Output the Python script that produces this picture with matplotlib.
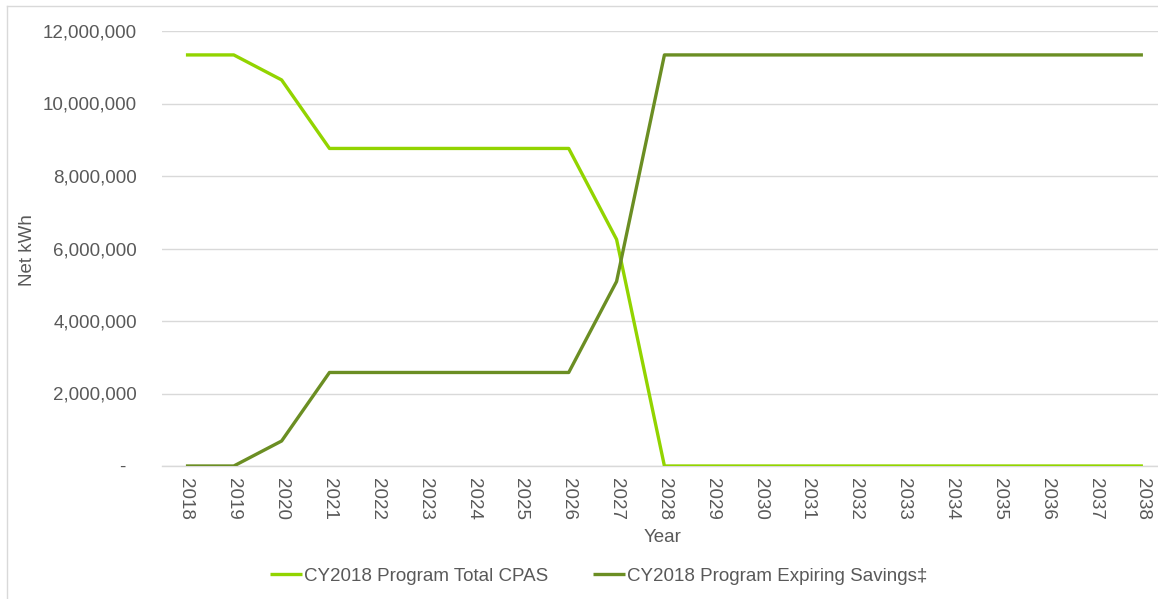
import matplotlib
matplotlib.use("Agg")
import matplotlib.pyplot as plt
from matplotlib.ticker import FuncFormatter, MultipleLocator
from matplotlib.lines import Line2D
import matplotlib.font_manager as fm

years = [str(y) for y in range(2018, 2039)]
total_cpas = [11340000, 11340000, 10650000, 8760000, 8760000, 8760000, 8760000, 8760000, 8760000, 6250000,
              0, 0, 0, 0, 0, 0, 0, 0, 0, 0, 0]
expiring = [0, 0, 690000, 2580000, 2580000, 2580000, 2580000, 2580000, 2580000, 5090000,
            11340000, 11340000, 11340000, 11340000, 11340000, 11340000, 11340000, 11340000, 11340000, 11340000, 11340000]
series_names = ["CY2018 Program Total CPAS", "CY2018 Program Expiring Savings\u2021"]

names = {f.name for f in fm.fontManager.ttflist}
fam = "Liberation Sans Narrow" if "Liberation Sans Narrow" in names else "Liberation Sans"
plt.rcParams['font.family'] = [fam, 'DejaVu Sans']
txt = '#595959'

W, H = 1158, 599
fig = plt.figure(figsize=(W / 100, H / 100), dpi=100)
left = 162 / W
right = (162 + 21 * 47.85) / W
bottom = (H - 466) / H
top = (H - 31) / H
ax = fig.add_axes([left, bottom, right - left, top - bottom])

x = list(range(len(years)))
l1, = ax.plot(x, total_cpas, color='#92D400', lw=2.4, solid_capstyle='butt', zorder=3)
l2, = ax.plot(x, expiring, color='#6B8E23', lw=2.4, solid_capstyle='butt', zorder=3)

ax.set_xlim(-0.5, len(years) - 0.5)
ax.set_ylim(0, 12000000)
ax.yaxis.set_major_locator(MultipleLocator(2000000))
ax.yaxis.set_major_formatter(FuncFormatter(lambda v, p: '-  ' if v == 0 else f'{v:,.0f}'))
ax.set_xticks(x)
ax.set_xticklabels(years, rotation=270, fontsize=13.5, color=txt)
ax.tick_params(axis='y', labelsize=13.5, labelcolor=txt, length=0, pad=18)
ax.tick_params(axis='x', length=0, pad=9)
ax.grid(axis='y', color='#D9D9D9', lw=1)
ax.set_axisbelow(True)
for s in ['top', 'right', 'left']:
    ax.spines[s].set_visible(False)
ax.spines['bottom'].set_color('#D9D9D9')
ax.spines['bottom'].set_linewidth(1)

fig.text(27 / W, (H - 250) / H, 'Net kWh', rotation=90, ha='center', va='center', fontsize=13.5, color=txt)
fig.text(663 / W, (H - 537) / H, 'Year', ha='center', va='center', fontsize=13.5, color=txt)

leg = fig.legend([l1, l2], series_names, loc='center', bbox_to_anchor=(599 / W, (H - 576) / H), ncol=2,
                 frameon=False, fontsize=13.5, labelcolor=txt, handlelength=1.7, handletextpad=0.1,
                 columnspacing=2.4, borderaxespad=0, borderpad=0)

# outer chart border (partially visible)
fig.add_artist(Line2D([7 / W, 7 / W], [0, (H - 5.5) / H], color='#D9D9D9', lw=1, transform=fig.transFigure))
fig.add_artist(Line2D([7 / W, 1], [(H - 5.5) / H, (H - 5.5) / H], color='#D9D9D9', lw=1, transform=fig.transFigure))

fig.savefig('out.png', dpi=100)
